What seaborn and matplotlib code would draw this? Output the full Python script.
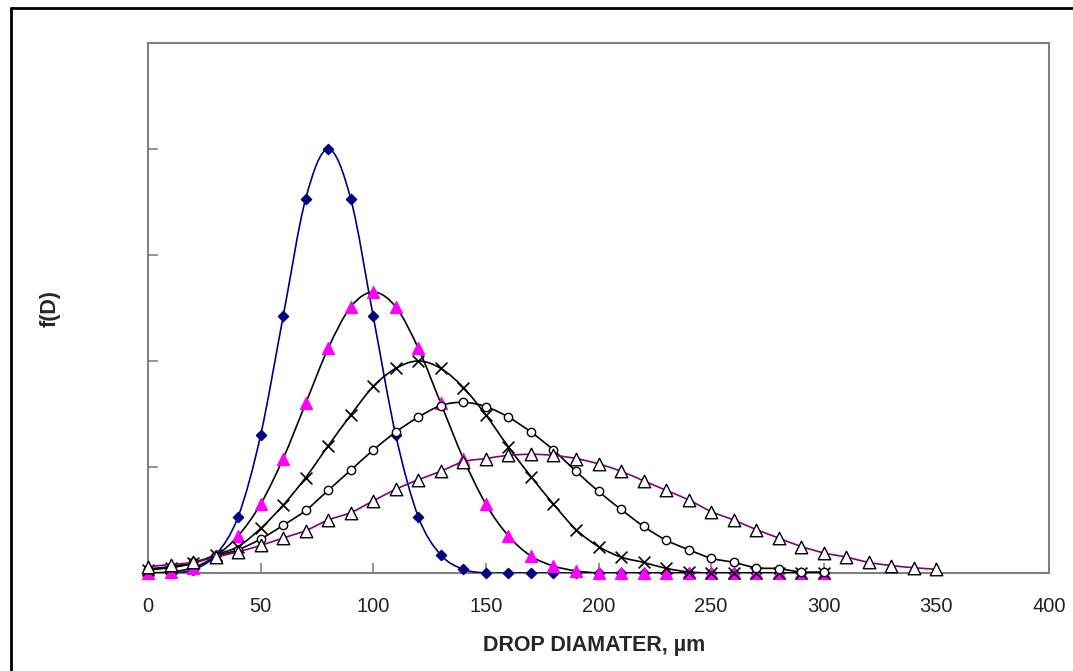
import numpy as np
import pandas as pd
import matplotlib.pyplot as plt
import seaborn as sns
from matplotlib.path import Path
from matplotlib.patches import PathPatch
from matplotlib.lines import Line2D

# Drop diameters (µm) at which f(D) was evaluated
diameter = list(range(0, 310, 10))
diameter_wide = list(range(0, 360, 10))

# f(D) values, one list per distribution
f_blue = [0.0, 0.0, 0.03, 0.17, 0.53, 1.30, 2.42, 3.53, 4.00, 3.53, 2.42, 1.30, 0.53, 0.17,
          0.035, 0.0, 0.0, 0.0, 0.0, 0.0, 0.0, 0.0, 0.0, 0.0, 0.0, 0.0, 0.0, 0.0, 0.0, 0.0, 0.0]
f_magenta = [0.0, 0.01, 0.05, 0.16, 0.35, 0.65, 1.08, 1.60, 2.12, 2.51, 2.65, 2.51, 2.12, 1.60,
             1.08, 0.65, 0.35, 0.16, 0.066, 0.02, 0.0, 0.0, 0.0, 0.0, 0.0, 0.0, 0.0, 0.0, 0.0, 0.0, 0.0]
f_cross = [0.03, 0.05, 0.09, 0.17, 0.25, 0.42, 0.64, 0.90, 1.20, 1.49, 1.76, 1.93, 2.00, 1.93,
           1.75, 1.49, 1.19, 0.91, 0.65, 0.41, 0.25, 0.15, 0.10, 0.044, 0.01, 0.0, 0.0, 0.0, 0.0, 0.0, 0.0]
f_circle = [0.04, 0.06, 0.10, 0.16, 0.22, 0.32, 0.45, 0.59, 0.78, 0.97, 1.16, 1.33, 1.47, 1.58,
            1.61, 1.57, 1.47, 1.33, 1.16, 0.96, 0.77, 0.60, 0.44, 0.31, 0.22, 0.14, 0.10, 0.05, 0.04, 0.01, 0.01]
f_triangle = [0.06, 0.08, 0.10, 0.15, 0.20, 0.26, 0.33, 0.40, 0.50, 0.57, 0.68, 0.79, 0.88, 0.96,
              1.05, 1.08, 1.11, 1.12, 1.11, 1.08, 1.03, 0.96, 0.87, 0.78, 0.69, 0.58, 0.50, 0.41,
              0.33, 0.25, 0.19, 0.15, 0.10, 0.07, 0.05, 0.035]

x_ticks = [0, 50, 100, 150, 200, 250, 300, 350, 400]
y_ticks = [0, 1, 2, 3, 4, 5]


def smooth_path(xs, ys):
    '''Excel-style smoothed line: cubic bezier through every point'''
    xs = np.asarray(xs, float)
    ys = np.asarray(ys, float)
    n = len(xs)
    verts = [(xs[0], ys[0])]
    codes = [Path.MOVETO]
    for i in range(n - 1):
        i0 = max(i - 1, 0)
        i3 = min(i + 2, n - 1)
        c1 = (xs[i] + (xs[i + 1] - xs[i0]) / 6, ys[i] + (ys[i + 1] - ys[i0]) / 6)
        c2 = (xs[i + 1] - (xs[i3] - xs[i]) / 6, ys[i + 1] - (ys[i3] - ys[i]) / 6)
        verts += [c1, c2, (xs[i + 1], ys[i + 1])]
        codes += [Path.CURVE4] * 3
    return Path(verts, codes)


sns.set_style("white")
plt.rcParams['font.family'] = ['Liberation Sans', 'DejaVu Sans']

fig = plt.figure(figsize=(10.73, 6.71), dpi=100)
ax = fig.add_axes([148 / 1073, 1 - 573 / 671, (1049 - 148) / 1073, (573 - 43) / 671])

# (x, y, line colour, marker, size, face, edge)
series = [
    (diameter, f_blue, '#000080', 'D', 5.2, '#000080', '#000080'),
    (diameter, f_magenta, 'black', '^', 8.5, '#ff00ff', '#ff00ff'),
    (diameter, f_cross, 'black', 'x', 8.5, 'black', 'black'),
    (diameter, f_circle, 'black', 'o', 6.0, 'white', 'black'),
    (diameter_wide, f_triangle, '#800080', '^', 9.0, 'white', 'black'),
]

for k, (xs, ys, lc, mk, ms, fc, ec) in enumerate(series):
    z = 3 + 2 * k
    ax.add_patch(PathPatch(smooth_path(xs, ys), fill=False, edgecolor=lc, lw=1.2, zorder=z))
    df = pd.DataFrame({'D': xs, 'f': ys})
    if mk == 'x':
        sns.scatterplot(data=df, x='D', y='f', marker=mk, s=ms ** 2, color=ec,
                        linewidth=1.2, ax=ax, zorder=z + 1, clip_on=False)
    else:
        sns.scatterplot(data=df, x='D', y='f', marker=mk, s=ms ** 2, facecolor=fc,
                        edgecolor=ec, linewidth=1.0, ax=ax, zorder=z + 1, clip_on=False)

ax.set_xlim(0, 400)
ax.set_ylim(0, 5)
ax.set_xticks(x_ticks)
ax.set_xticklabels([str(t) for t in x_ticks])
ax.set_yticks(y_ticks)
ax.set_yticklabels([])
ax.tick_params(axis='both', direction='in', length=7, width=1.2, color='#808080',
               labelsize=14.5, labelcolor='#222222')
ax.tick_params(axis='x', pad=17.5, bottom=True)
ax.tick_params(axis='y', left=True)
for sp in ax.spines.values():
    sp.set_color('#808080')
    sp.set_linewidth(1.5)

ax.set_xlabel('')
ax.set_ylabel('')
fig.text(594 / 1073, 1 - 645 / 671, 'DROP DIAMATER, µm', ha='center', va='center',
         fontsize=15.5, fontweight='bold')
fig.text(50 / 1073, 1 - 308 / 671, 'f(D)', ha='center', va='center', rotation=90,
         fontsize=15.5, fontweight='bold')

# outer chart frame (only left and top edges fall inside the image)
fig.add_artist(Line2D([11 / 1073, 11 / 1073], [0, 1 - 8 / 671], transform=fig.transFigure,
                      color='black', lw=2))
fig.add_artist(Line2D([11 / 1073, 1], [1 - 8 / 671, 1 - 8 / 671], transform=fig.transFigure,
                      color='black', lw=2))

fig.savefig("out.png", dpi=100)
